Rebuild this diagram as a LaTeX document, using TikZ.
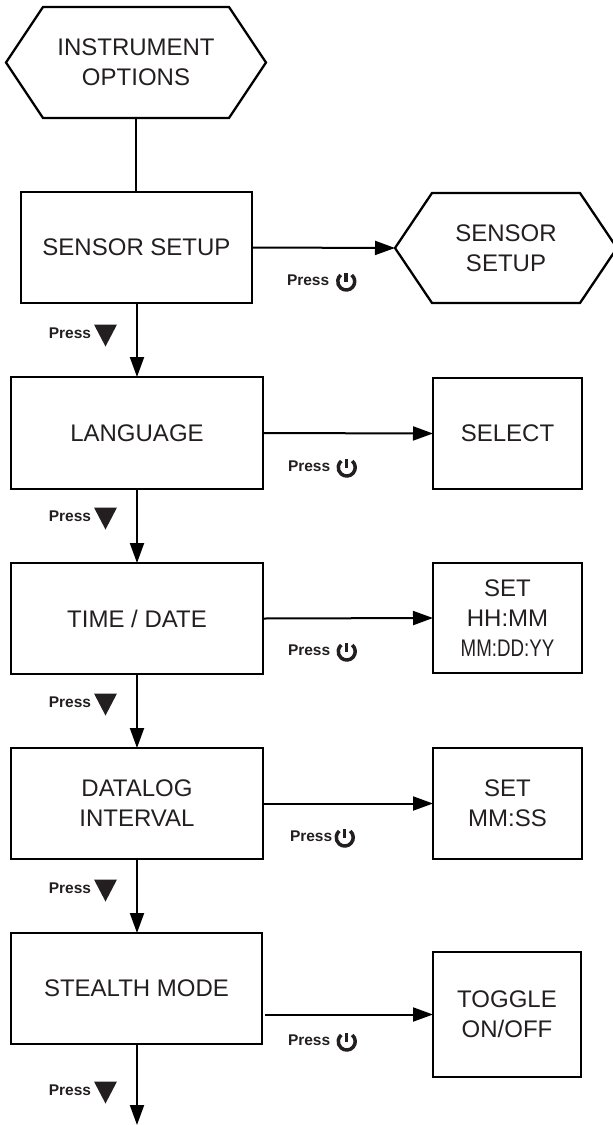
\documentclass[tikz,border=0pt]{standalone}
\usepackage{fontspec}
\usepackage{graphicx}
\setmainfont{Liberation Sans}
\usetikzlibrary{arrows.meta}
\definecolor{ink}{RGB}{35,31,32}
\begin{document}
\begin{tikzpicture}[x=1pt,y=-1pt,
  box/.style={draw=black, line width=2.3pt, inner sep=0pt, outer sep=0pt, align=center, text=ink, font=\fontsize{24}{30}\selectfont},
  hexnode/.style={inner sep=0pt, outer sep=0pt, align=center, text=ink, font=\fontsize{24}{30}\selectfont},
  hexline/.style={draw=black, line width=2.3pt, line join=miter},
  conn/.style={draw=black, line width=2pt},
  arr/.style={conn, -{Triangle[length=20pt,width=14pt]}},
  presslbl/.style={inner sep=0pt, outer sep=0pt, text=ink, font=\bfseries\fontsize{15.5}{18}\selectfont},
  downtri/.pic={\fill[ink] (0,0) -- (23,0) -- (11.5,22) -- cycle;},
  poweric/.pic={\draw[ink, line width=3.5pt] (-50:8.5) arc[start angle=-50, end angle=230, radius=8.5];
                \draw[ink, line width=3.5pt] (0,-8.5) -- (0,0.5);},
]
\useasboundingbox (0,0) rectangle (613,1125);

% top hexagon
\node[hexnode, minimum width=260pt, minimum height=111pt] (opt) at (136,62.5) {INSTRUMENT\\OPTIONS};
\draw[hexline] (opt.west) -- ([xshift=37pt]opt.north west) -- ([xshift=-37pt]opt.north east) -- (opt.east) -- ([xshift=-37pt]opt.south east) -- ([xshift=37pt]opt.south west) -- cycle;

% left column
\node[box, minimum width=231pt, minimum height=111pt] (sensor) at (136.5,247.5) {SENSOR SETUP};
\node[box, minimum width=252pt, minimum height=112pt] (lang) at (137,433) {LANGUAGE};
\node[box, minimum width=252pt, minimum height=111pt] (time) at (137,618.5) {TIME / DATE};
\node[box, minimum width=252pt, minimum height=111pt] (dlog) at (137,803.5) {DATALOG\\INTERVAL};
\node[box, minimum width=251pt, minimum height=111pt] (stealth) at (136.5,988.5) {STEALTH MODE};

% right column
\node[hexnode, minimum width=222pt, minimum height=110pt] (shex) at (506,248) {SENSOR\\SETUP};
\draw[hexline] (shex.west) -- ([xshift=37pt]shex.north west) -- ([xshift=-37pt]shex.north east) -- (shex.east) -- ([xshift=-37pt]shex.south east) -- ([xshift=37pt]shex.south west) -- cycle;
\node[box, minimum width=149pt, minimum height=111pt] (sel) at (507.5,433.5) {SELECT};
\node[box, minimum width=149pt, minimum height=110pt] (sethm) at (507.5,618) {SET\\HH:MM\\\scalebox{0.78}[1]{MM:DD:YY}};
\node[box, minimum width=149pt, minimum height=111pt] (setms) at (507.5,803.5) {SET\\MM:SS};
\node[box, minimum width=148pt, minimum height=125pt] (tog) at (507,1014.5) {TOGGLE\\ON/OFF};

% vertical connectors
\draw[conn] (opt.south) -- (opt.south |- sensor.north);
\draw[arr] (lang.north |- sensor.south) -- (lang.north);
\draw[arr] (lang.south) -- (time.north);
\draw[arr] (time.south) -- (dlog.north);
\draw[arr] (dlog.south) -- (dlog.south |- stealth.north);
\coordinate (endpt) at (137,1125);
\draw[arr] (endpt |- stealth.south) -- (endpt);

% horizontal connectors
\draw[arr] (sensor.east) -- (shex.west);
\draw[arr] (lang.east) -- (sel.west);
\draw[arr] (time.east) -- (sethm.west);
\draw[arr] (dlog.east) -- (setms.west);
\draw[arr] ([xshift=3pt]stealth.east |- tog.west) -- (tog.west);

% Press (down) labels
\node[presslbl, anchor=east] (pd1) at (91,333) {Press};
\path (pd1.east) ++(3,-8.5) pic {downtri};
\node[presslbl, anchor=east] (pd2) at (91,516) {Press};
\path (pd2.east) ++(3,-8.5) pic {downtri};
\node[presslbl, anchor=east] (pd3) at (91,702) {Press};
\path (pd3.east) ++(3,-8.5) pic {downtri};
\node[presslbl, anchor=east] (pd4) at (91,888) {Press};
\path (pd4.east) ++(3,-8.5) pic {downtri};
\node[presslbl, anchor=east] (pd5) at (91,1090) {Press};
\path (pd5.east) ++(3,-8.5) pic {downtri};

% Press (power) labels
\node[presslbl, anchor=west] (pp1) at (287,280) {Press};
\path (pp1.east) ++(17,1.5) pic {poweric};
\node[presslbl, anchor=west] (pp2) at (288,466) {Press};
\path (pp2.east) ++(16.5,1.5) pic {poweric};
\node[presslbl, anchor=west] (pp3) at (288,650) {Press};
\path (pp3.east) ++(16.5,1.5) pic {poweric};
\node[presslbl, anchor=west] (pp4) at (290,836) {Press};
\path (pp4.east) ++(12.5,1.5) pic {poweric};
\node[presslbl, anchor=west] (pp5) at (288,1040) {Press};
\path (pp5.east) ++(16.5,1.5) pic {poweric};
\end{tikzpicture}
\end{document}
